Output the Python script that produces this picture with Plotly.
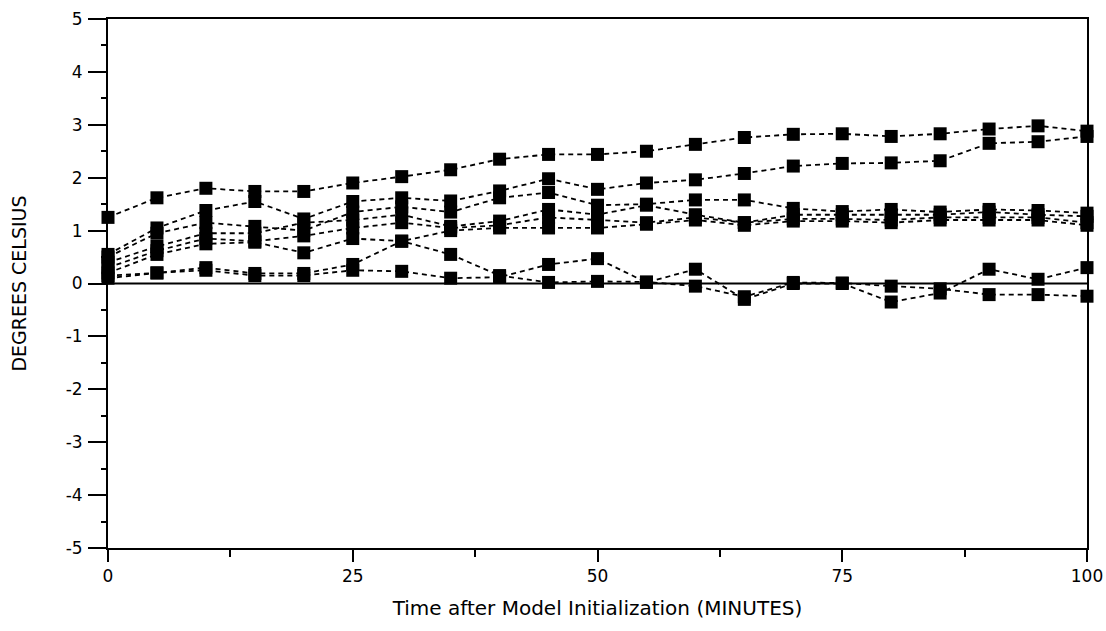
import plotly.graph_objects as go

minutes = [0, 5, 10, 15, 20, 25, 30, 35, 40, 45, 50, 55, 60, 65, 70, 75, 80, 85, 90, 95, 100]

run_a = [1.25, 1.62, 1.80, 1.74, 1.74, 1.90, 2.02, 2.15, 2.35, 2.44, 2.44, 2.50, 2.63, 2.76, 2.82, 2.83, 2.78, 2.83, 2.92, 2.98, 2.88]
run_b = [0.55, 1.05, 1.38, 1.55, 1.22, 1.55, 1.62, 1.56, 1.75, 1.98, 1.78, 1.90, 1.96, 2.08, 2.22, 2.27, 2.28, 2.32, 2.65, 2.68, 2.78]
run_c = [0.50, 0.95, 1.15, 1.08, 1.00, 1.35, 1.45, 1.35, 1.62, 1.72, 1.48, 1.50, 1.58, 1.58, 1.42, 1.36, 1.40, 1.35, 1.40, 1.38, 1.33]
run_d = [0.40, 0.70, 0.95, 0.95, 1.15, 1.20, 1.30, 1.08, 1.18, 1.40, 1.30, 1.48, 1.30, 1.15, 1.30, 1.30, 1.30, 1.30, 1.35, 1.30, 1.27]
run_e = [0.30, 0.62, 0.85, 0.80, 0.90, 1.05, 1.15, 1.05, 1.10, 1.25, 1.20, 1.15, 1.25, 1.15, 1.22, 1.22, 1.20, 1.25, 1.25, 1.25, 1.15]
run_f = [0.20, 0.55, 0.75, 0.78, 0.58, 0.85, 0.80, 1.00, 1.05, 1.05, 1.05, 1.12, 1.20, 1.10, 1.18, 1.18, 1.15, 1.20, 1.20, 1.20, 1.10]
run_g = [0.15, 0.20, 0.30, 0.19, 0.19, 0.36, 0.80, 0.55, 0.15, 0.02, 0.04, 0.03, -0.05, -0.25, 0.02, 0.01, -0.05, -0.10, -0.21, -0.21, -0.24]
run_h = [0.10, 0.20, 0.25, 0.15, 0.15, 0.25, 0.23, 0.10, 0.12, 0.36, 0.47, 0.02, 0.27, -0.30, 0.00, 0.00, -0.35, -0.18, 0.27, 0.08, 0.30]

runs = [run_a, run_b, run_c, run_d, run_e, run_f, run_g, run_h]

x_ticks = [0, 25, 50, 75, 100]
y_ticks = [-5, -4, -3, -2, -1, 0, 1, 2, 3, 4, 5]

fig = go.Figure()
for r in runs:
    fig.add_trace(go.Scatter(
        x=minutes, y=r, mode="lines+markers",
        line=dict(color="black", width=1.8, dash="5px,4px"),
        marker=dict(symbol="square", size=13, color="black"),
        showlegend=False, cliponaxis=False,
    ))

fig.add_hline(y=0, line=dict(color="black", width=2))

font = dict(family="DejaVu Sans, sans-serif", size=18, color="black")
fig.update_layout(
    width=1106, height=631,
    margin=dict(l=108, r=19, t=19, b=83),
    plot_bgcolor="white", paper_bgcolor="white",
    font=font,
)
fig.update_xaxes(
    range=[0, 100], tickvals=x_ticks, ticktext=[str(v) for v in x_ticks],
    showgrid=False, zeroline=False, showline=True, linecolor="black", linewidth=2,
    mirror=True, ticks="outside", ticklen=12, tickwidth=1.5, tickcolor="black",
    tickfont=dict(size=17), automargin=False,
    minor=dict(tickvals=[12.5, 37.5, 62.5, 87.5], ticks="outside", ticklen=7, tickcolor="black"),
    title=dict(text="Time after Model Initialization (MINUTES)", font=dict(size=20), standoff=16),
)
fig.update_yaxes(
    range=[-5, 5], tickvals=y_ticks, ticktext=[str(v) for v in y_ticks],
    showgrid=False, zeroline=False, showline=True, linecolor="black", linewidth=2,
    mirror=True, ticks="outside", ticklen=18, tickwidth=1.5, tickcolor="black",
    tickfont=dict(size=17), ticklabelstandoff=2, automargin=False,
    minor=dict(dtick=0.5, ticks="outside", ticklen=5, tickcolor="black"),
    title=dict(text="DEGREES CELSIUS", font=dict(size=19), standoff=34),
)
fig.write_html("out.html")
